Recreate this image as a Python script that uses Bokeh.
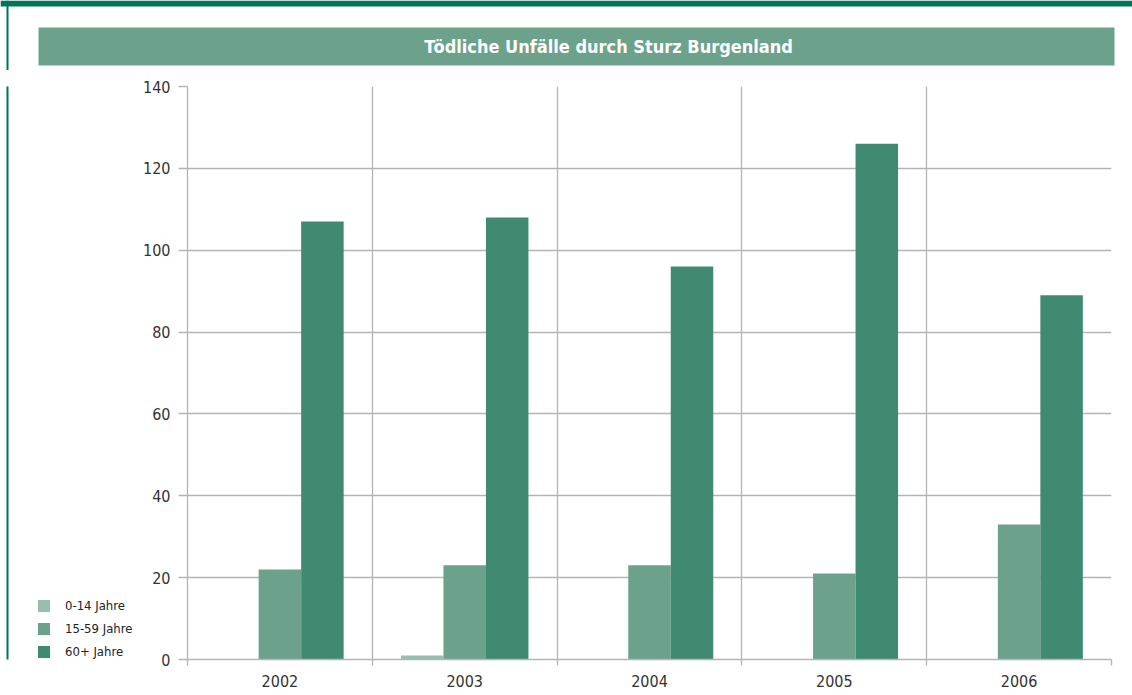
from bokeh.plotting import figure
from bokeh.layouts import row
from bokeh.models import ColumnDataSource, Range1d, FixedTicker, Legend
from bokeh.transform import dodge
from bokeh.core.properties import value
from bokeh.embed import file_html
from bokeh.resources import INLINE

title = "Tödliche Unfälle durch Sturz Burgenland"
years = [2002, 2003, 2004, 2005, 2006]
series_names = ["0-14 Jahre", "15-59 Jahre", "60+ Jahre"]
age_0_14 = [0, 1, 0, 0, 0]
age_15_59 = [22, 23, 23, 21, 33]
age_60_plus = [107, 108, 96, 126, 89]
y_ticks = [0, 20, 40, 60, 80, 100, 120, 140]

colors = ["#97bfae", "#6ca28c", "#418a72"]
band = "#00745a"
grid_col = "#b4b4b4"
FONT = "'DejaVu Sans Condensed', Roboto, sans-serif"

W = 1132
H = 695
TH = 70           # title strip height
MH = H - TH       # chart strip height
TOP, BOT = 86 - TH, H - 659
LW = 137          # legend column width
NAN = float("nan")


def bare(fig):
    fig.grid.visible = False
    fig.outline_line_color = None
    return fig


# ---- title strip ----
tf = bare(figure(width=W, height=TH, x_range=Range1d(0, W), y_range=Range1d(0, TH),
                 x_axis_type=None, y_axis_type=None, output_backend="svg",
                 toolbar_location=None, min_border=0, min_border_left=0,
                 min_border_right=0, min_border_top=0, min_border_bottom=0))
tf.quad(left=[0], right=[W], bottom=[TH - 6], top=[TH], color=band, line_color=None)
tf.quad(left=[6], right=[8], bottom=[0], top=[TH], color=band, line_color=None)
tf.quad(left=[38], right=[1114], bottom=[TH - 65], top=[TH - 27], color="#6ca28c", line_color=None)
tf.text(x=[608], y=[TH - 46], text=[title], text_align="center", text_baseline="middle",
        text_color="white", text_font=value(FONT), text_font_style="bold",
        text_font_size="18px")

# ---- legend strip (left); its frame is aligned with the chart frame ----
lf = bare(figure(width=LW, height=MH, x_range=Range1d(0, LW), y_range=Range1d(BOT, MH - TOP),
                 x_axis_type=None, y_axis_type=None, output_backend="svg",
                 toolbar_location=None, min_border=0, min_border_left=0, min_border_right=0,
                 min_border_top=TOP, min_border_bottom=BOT))
lf.quad(left=[6], right=[8], bottom=[0], top=[MH], color=band, line_color=None)
leg_r = [lf.quad(left=[NAN], right=[NAN], bottom=[NAN], top=[NAN], color=c, line_color=None)
         for c in colors]
legend = Legend(items=[(n, [r]) for n, r in zip(series_names, leg_r)],
                location=(36, 0), orientation="vertical")
legend.padding = 0
legend.margin = 0
legend.border_line_color = None
legend.background_fill_alpha = 0
legend.glyph_width = 15
legend.glyph_height = 15
legend.label_height = 15
legend.spacing = 8
legend.label_standoff = 14
legend.label_text_font = FONT
legend.label_text_font_size = "13px"
legend.label_text_color = "#222222"
lf.add_layout(legend, "center")

# ---- main chart ----
src = ColumnDataSource(dict(year=years, a=age_0_14, b=age_15_59, c=age_60_plus))

p = figure(width=W - LW, height=MH, x_range=Range1d(years[0] - 0.5, years[-1] + 0.5),
           y_range=Range1d(0, 140), output_backend="svg", toolbar_location=None,
           min_border_left=187 - LW, min_border_right=W - 1111,
           min_border_top=TOP, min_border_bottom=BOT)
p.outline_line_color = None
p.background_fill_color = "white"

w = 0.23
p.vbar(x=dodge("year", -w, range=p.x_range), top="a", width=w, source=src,
       color=colors[0], line_color=None)
p.vbar(x=dodge("year", 0, range=p.x_range), top="b", width=w, source=src,
       color=colors[1], line_color=None)
p.vbar(x=dodge("year", w, range=p.x_range), top="c", width=w, source=src,
       color=colors[2], line_color=None)

bounds = [y - 0.5 for y in years] + [years[-1] + 0.5]
p.xaxis.ticker = FixedTicker(ticks=years, minor_ticks=bounds)
p.yaxis.ticker = FixedTicker(ticks=y_ticks)
for ax in (p.xaxis[0], p.yaxis[0]):
    ax.axis_line_color = grid_col
    ax.axis_line_width = 1.3
    ax.major_tick_line_color = grid_col
    ax.major_tick_line_width = 1.3
    ax.minor_tick_line_color = grid_col
    ax.minor_tick_line_width = 1.3
    ax.major_label_text_font = FONT
    ax.major_label_text_font_size = "16px"
    ax.major_label_text_color = "#333333"
p.xaxis.major_tick_out = 0
p.xaxis.major_tick_in = 0
p.xaxis.minor_tick_out = 6
p.xaxis.minor_tick_in = 0
p.xaxis.major_label_standoff = 9
p.yaxis.major_tick_out = 9
p.yaxis.major_tick_in = 0
p.yaxis.minor_tick_out = 0
p.yaxis.minor_tick_in = 0
p.yaxis.major_label_standoff = 8

p.xgrid.grid_line_color = None
p.xgrid.minor_grid_line_color = grid_col
p.xgrid.minor_grid_line_width = 1.3
p.ygrid.grid_line_color = grid_col
p.ygrid.grid_line_width = 1.3

open("out.html", "w").write(file_html([tf, row(lf, p, spacing=0)], INLINE))
